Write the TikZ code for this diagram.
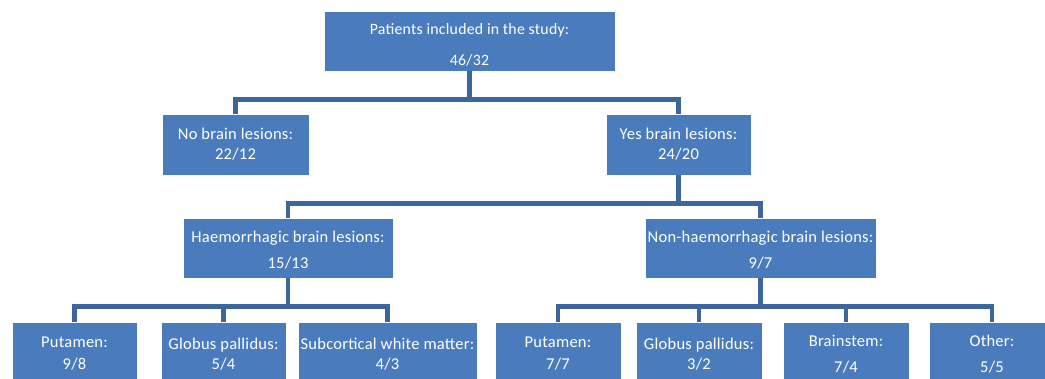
\documentclass[tikz,border=0pt]{standalone}
\usepackage{fontspec}
\setmainfont{Carlito}[LetterSpace=1.5]
\definecolor{boxblue}{HTML}{4A7CBD}
\definecolor{linkblue}{HTML}{3D679C}
\tikzset{
  box/.style={rectangle, fill=boxblue, draw=white, line width=0.6pt, text=white,
    align=center, inner sep=0pt, font=\fontsize{16.5}{20}\selectfont},
  link/.style={draw=linkblue, line width=4.5pt},
}
\begin{document}
\begin{tikzpicture}[x=1pt, y=-1pt]

\clip (0,0) rectangle (1045,378);

\node[box, minimum width=291, minimum height=60, font=\fontsize{15.8}{19}\selectfont] (top) at (469.5,41) {\rule{0pt}{19pt}Patients included in the study:\\[12pt]46/32};

\node[box, minimum width=147, minimum height=61] (no) at (235.5,144.5) {No brain lesions:\\22/12};
\node[box, minimum width=145, minimum height=61] (yes) at (678.5,144.5) {Yes brain lesions:\\24/20};

\node[box, minimum width=210, minimum height=60] (haem) at (288,248) {\rule{0pt}{16pt}Haemorrhagic brain lesions:\\[6pt]15/13};
\node[box, minimum width=231, minimum height=60] (nonh) at (760.5,248) {\rule{0pt}{16pt}Non-haemorrhagic brain lesions:\\[6pt]9/7};

\node[box, minimum width=125, minimum height=64] (put1) at (74.5,354) {Putamen:\\[2pt]9/8};
\node[box, minimum width=125, minimum height=64] (glob1) at (223.5,354) {Globus pallidus:\\5/4};
\node[box, minimum width=179, minimum height=64] (subc1) at (387.5,354) {Subcortical white matter:\\4/3};

\node[box, minimum width=126, minimum height=64] (put2) at (558,354) {Putamen:\\[2pt]7/7};
\node[box, minimum width=126, minimum height=64] (glob2) at (699,354) {Globus pallidus:\\3/2};
\node[box, minimum width=126, minimum height=64] (brst2) at (846,354) {Brainstem:\\[6pt]7/4};
\node[box, minimum width=126, minimum height=64] (oth2) at (992,354) {Other:\\[6pt]5/5};

% level 1
\draw[link] (top.south) -- ++(0,28) -| (no.north);
\draw[link] (top.south) -- ++(0,28) -| (yes.north);

% level 2
\draw[link] (yes.south) -- ++(0,28) -| (haem.north);
\draw[link] (yes.south) -- ++(0,28) -| (nonh.north);

% level 3
\foreach \c in {put1,glob1,subc1}
  \draw[link] (haem.south) -- ++(0,28) -| (\c.north);
\foreach \c in {put2,glob2,brst2,oth2}
  \draw[link] (nonh.south) -- ++(0,28) -| (\c.north);

\end{tikzpicture}
\end{document}
